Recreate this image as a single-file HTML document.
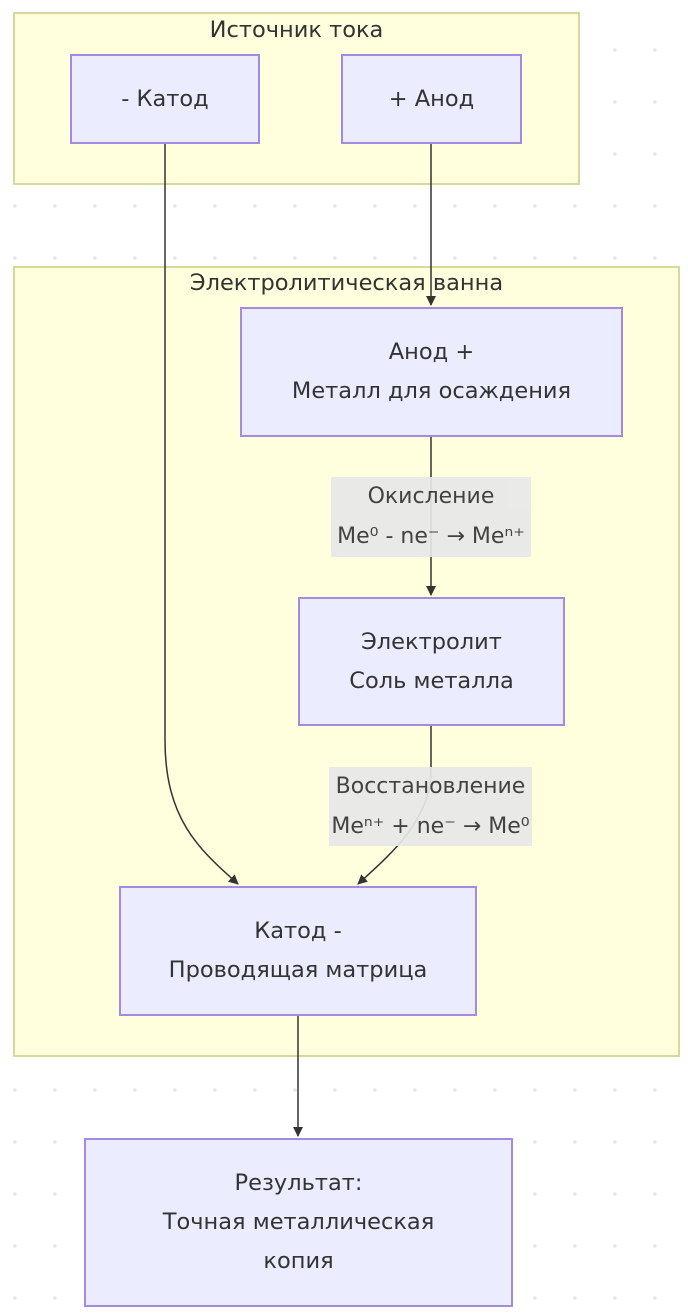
<!DOCTYPE html>
<html><head><meta charset="utf-8"><style>
body{margin:0;width:688px;height:1316px;overflow:hidden;background:#fff;
background-image:radial-gradient(circle,#e4e4e4 1.5px,transparent 2px);background-size:40px 52px;background-position:-5px 24px;
font-family:"DejaVu Sans","Liberation Sans",sans-serif;color:#333}
.a{position:absolute;box-sizing:border-box}
.g{background:#ffffde;border:2px solid #d8d89a}
.n{background:#ececff;border:2px solid #a48be0;display:flex;flex-direction:column;align-items:center;justify-content:center;font-size:22.5px;line-height:39px;text-align:center;white-space:nowrap}
.l{background:#e8e8e8;opacity:.92;display:flex;flex-direction:column;align-items:center;justify-content:center;font-size:22px;line-height:40px;text-align:center;white-space:nowrap;color:#333}
.t{font-size:22.5px;text-align:center}
svg{position:absolute;left:0;top:0}
</style></head><body>
<div class="a g" style="left:13px;top:12px;width:567px;height:173px"></div>
<div class="a t" style="left:13px;top:17px;width:567px">Источник тока</div>
<div class="a g" style="left:13px;top:266px;width:667px;height:791px"></div>
<div class="a t" style="left:13px;top:270px;width:667px">Электролитическая ванна</div>
<div class="a n" style="left:70px;top:54px;width:190px;height:90px">- Катод</div>
<div class="a n" style="left:341px;top:54px;width:181px;height:90px">+ Анод</div>
<div class="a n" style="left:240px;top:307px;width:383px;height:130px">Анод +<br>Металл для осаждения</div>
<div class="a n" style="left:298px;top:597px;width:267px;height:129px">Электролит<br>Соль металла</div>
<div class="a n" style="left:119px;top:886px;width:358px;height:130px">Катод -<br>Проводящая матрица</div>
<div class="a n" style="left:84px;top:1138px;width:429px;height:169px">Результат:<br>Точная металлическая<br>копия</div>
<svg width="688" height="1316">
<defs><marker id="m" markerWidth="10" markerHeight="10" refX="9" refY="5" orient="auto" markerUnits="userSpaceOnUse"><path d="M0,0L10,5L0,10z" fill="#333"/></marker></defs>
<g stroke="#333" stroke-width="1.5" fill="none" marker-end="url(#m)">
<path d="M165,144V740C165,820 200,850 238,884"/>
<path d="M431,144V305"/>
<path d="M431,437V595"/>
<path d="M431,726V770C431,820 390,855 358,884"/>
<path d="M298,1016V1136"/>
</g></svg>
<div class="a l" style="left:331px;top:477px;width:200px;height:80px">Окисление<br>Me⁰ - ne⁻ → Meⁿ⁺</div>
<div class="a l" style="left:329px;top:767px;width:203px;height:79px">Восстановление<br>Meⁿ⁺ + ne⁻ → Me⁰</div>
</body></html>
